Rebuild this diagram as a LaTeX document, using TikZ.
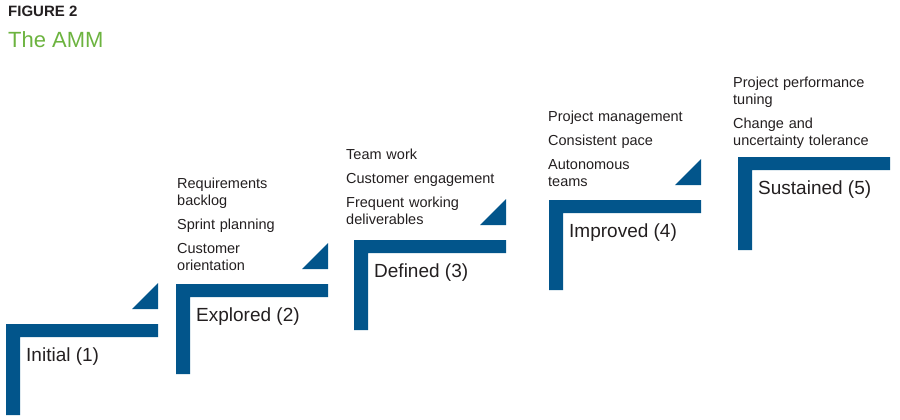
\documentclass[tikz,border=0pt]{standalone}
\usepackage{fontspec}
\setmainfont{Liberation Sans}
\definecolor{stepblue}{HTML}{02558B}
\definecolor{titlegreen}{HTML}{6CB33F}
\definecolor{txt}{HTML}{231F20}
\tikzstyle{bar} = [fill=stepblue, draw=none]
\tikzstyle{level} = [anchor=west, inner sep=0pt, font=\fontsize{19}{22}\selectfont, text=txt]
\tikzstyle{items} = [anchor=south west, inner sep=0pt, align=left, text width=5.6cm, font=\fontsize{14.5}{17}\selectfont, text=txt]

\begin{document}
\begin{tikzpicture}[x=1pt, y=-1pt]
\useasboundingbox (0,0) rectangle (900,420);

%% TITLE

\node (fig) [anchor=north west, inner sep=0pt, font=\bfseries\fontsize{15}{17}\selectfont, text=txt] at (8,6) {FIGURE 2};
\node (title) [anchor=north west, inner sep=0pt, font=\fontsize{22}{25}\selectfont, text=titlegreen] at (8,31) {The AMM};

%% STEPS

\foreach \x/\y/\b/\name in {6/324/415/Initial (1), 176/284/374/Explored (2), 354/240/330/Defined (3), 549/200/290/Improved (4), 738/157/250/Sustained (5)} {
  \fill [bar] (\x,\y) -- (\x+152,\y) -- (\x+152,\y+13) -- (\x+14,\y+13) -- (\x+14,\b) -- (\x,\b) -- cycle;
  \node [level] at (\x+20,\y+33) {\name};
}
\foreach \x/\y in {6/324, 176/284, 354/240, 549/200} {
  \fill [bar] (\x+126,\y-15) -- (\x+152,\y-15) -- (\x+152,\y-41) -- cycle;
}

%% ITEMS

\node (i2) [items] at (177,271) {Requirements\\backlog\\[7pt]Sprint planning\\[7pt]Customer\\orientation};
\node (i3) [items] at (346,225) {Team work\\[7pt]Customer engagement\\[7pt]Frequent working\\deliverables};
\node (i4) [items] at (548,187) {Project management\\[7pt]Consistent pace\\[7pt]Autonomous\\teams};
\node (i5) [items] at (733,149) {Project performance\\tuning\\[7pt]Change and\\uncertainty tolerance};

\end{tikzpicture}
\end{document}
